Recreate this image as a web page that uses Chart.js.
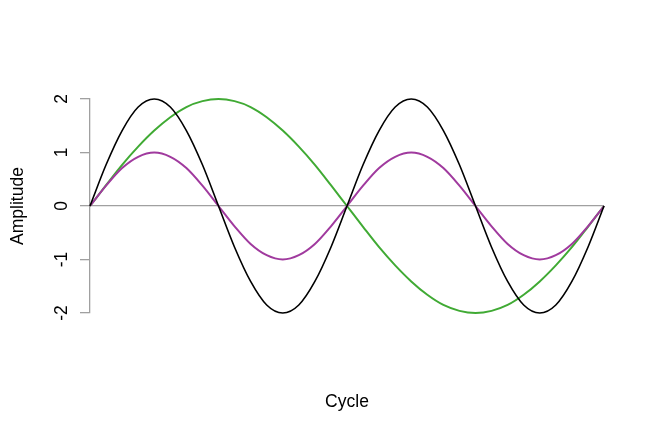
<!DOCTYPE html>
<html><head><meta charset="utf-8">
<script src="https://cdn.jsdelivr.net/npm/chart.js@4"></script>
<style>html,body{margin:0;padding:0;background:#fff}#w{width:650px;height:433px}</style>
</head><body><div id="w"><canvas id="c"></canvas></div>
<script>
const cycle = [0,0.03125,0.0625,0.09375,0.125,0.15625,0.1875,0.21875,0.25,0.28125,0.3125,0.34375,0.375,0.40625,0.4375,0.46875,0.5,0.53125,0.5625,0.59375,0.625,0.65625,0.6875,0.71875,0.75,0.78125,0.8125,0.84375,0.875,0.90625,0.9375,0.96875,1];
const blackWave = [0,0.77,1.41,1.85,2,1.85,1.41,0.77,0,-0.77,-1.41,-1.85,-2,-1.85,-1.41,-0.77,0,0.77,1.41,1.85,2,1.85,1.41,0.77,0,-0.77,-1.41,-1.85,-2,-1.85,-1.41,-0.77,0];
const purpleWave = [0,0.38,0.71,0.92,1,0.92,0.71,0.38,0,-0.38,-0.71,-0.92,-1,-0.92,-0.71,-0.38,0,0.38,0.71,0.92,1,0.92,0.71,0.38,0,-0.38,-0.71,-0.92,-1,-0.92,-0.71,-0.38,0];
const greenWave = [0,0.39,0.77,1.11,1.41,1.66,1.85,1.96,2,1.96,1.85,1.66,1.41,1.11,0.77,0.39,0,-0.39,-0.77,-1.11,-1.41,-1.66,-1.85,-1.96,-2,-1.96,-1.85,-1.66,-1.41,-1.11,-0.77,-0.39,0];
const yTicks = [-2,-1,0,1,2];
const xTitle = 'Cycle';
const yTitle = 'Amplitude';

const pts = arr => arr.map((v,i)=>({x:cycle[i], y:v}));
const FONT = '"Liberation Sans", Arial, sans-serif';

const textPlugin = {
  id:'rtext',
  afterDraw(chart){
    const ctx = chart.ctx, y = chart.scales.y, ca = chart.chartArea;
    ctx.save();
    ctx.fillStyle = '#000';
    ctx.font = '17.5px ' + FONT;
    ctx.textAlign = 'center';
    ctx.textBaseline = 'middle';
    yTicks.forEach(t=>{
      const py = y.getPixelForValue(t);
      ctx.save();
      ctx.translate(62, py);
      ctx.rotate(-Math.PI/2);
      ctx.fillText(String(t), 0, 0);
      ctx.restore();
    });
    ctx.save();
    ctx.translate(18, (y.getPixelForValue(2)+y.getPixelForValue(-2))/2);
    ctx.rotate(-Math.PI/2);
    ctx.fillText(yTitle, 0, 0);
    ctx.restore();
    ctx.fillText(xTitle, (ca.left+ca.right)/2, 402);
    ctx.restore();
  }
};

new Chart(document.getElementById('c'), {
  type:'line',
  data:{datasets:[
    {data:pts(blackWave), borderColor:'#000000', borderWidth:1.6},
    {data:pts(purpleWave), borderColor:'#A03A9E', borderWidth:2},
    {data:pts(greenWave), borderColor:'#40AA34', borderWidth:2}
  ]},
  options:{
    responsive:true, maintainAspectRatio:false, animation:false,
    layout:{padding:{left:0,right:46,top:99,bottom:120}},
    plugins:{legend:{display:false}, tooltip:{enabled:false}},
    elements:{point:{radius:0}, line:{cubicInterpolationMode:'monotone', fill:false}},
    clip:false,
    scales:{
      x:{type:'linear', min:0, max:1, display:false},
      y:{
        min:-2, max:2,
        afterFit(s){ s.width = 90; },
        afterBuildTicks(s){ s.ticks = yTicks.map(v=>({value:v})); },
        ticks:{display:false},
        border:{display:true, color:'#a0a0a0', width:1.3},
        grid:{
          drawTicks:true, tickLength:10, tickColor:'#a0a0a0', lineWidth:1.3,
          color: c => (c.tick && c.tick.value===0) ? '#a0a0a0' : 'rgba(0,0,0,0)'
        }
      }
    }
  },
  plugins:[textPlugin]
});
</script>
</body></html>
